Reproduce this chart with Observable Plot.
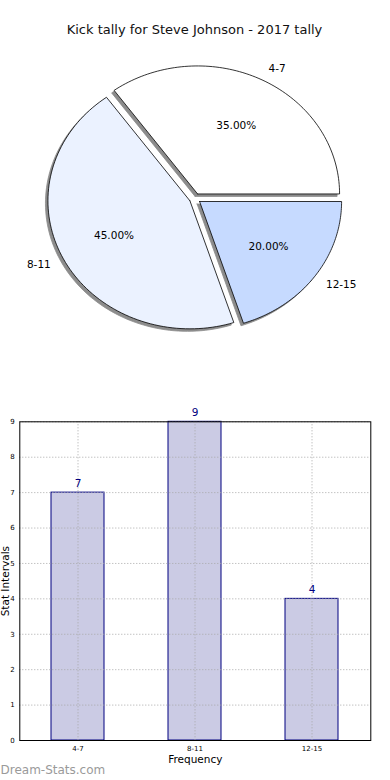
<!DOCTYPE html>
<html>
<head>
<meta charset="utf-8">
<script src="https://cdn.jsdelivr.net/npm/d3@7"></script>
<script src="https://cdn.jsdelivr.net/npm/@observablehq/plot@0.6"></script>
<style>
  html, body { margin: 0; padding: 0; background: #fff; }
  #wrap { position: relative; width: 390px; height: 780px; font-family: "DejaVu Sans", sans-serif; }
  #title { position: absolute; top: 21px; left: 0; width: 389px; text-align: center; font-size: 13px; color: #111; line-height: 18px; z-index: 2; }
  #pie { position: absolute; top: 0; left: 0; }
  #bar { position: absolute; top: 390px; left: 0; }
  svg { display: block; }
</style>
</head>
<body>
<div id="wrap">
  <div id="title">Kick tally for Steve Johnson - 2017 tally</div>
  <div id="pie"></div>
  <div id="bar"></div>
</div>
<script>
// ---- data ----
const categories = ["4-7", "8-11", "12-15"];
const counts = [7, 9, 4];
const pieColors = ["#ffffff", "#ebf2ff", "#c6daff"];
const yTicks = [0, 1, 2, 3, 4, 5, 6, 7, 8, 9];
const titleText = "Kick tally for Steve Johnson - 2017 tally";
const xLabel = "Frequency";
const yLabel = "Stat Intervals";
const watermark = "Dream-Stats.com";

const explode = 0.04;
const total = d3.sum(counts);

// angles (counter-clockwise from 3 o'clock) derived from the data
const arcs = d3.pie().sort(null)(counts);
const slices = arcs.map((a, i) => {
  const a0 = a.startAngle, a1 = a.endAngle, m = (a0 + a1) / 2;
  const ox = explode * Math.cos(m), oy = explode * Math.sin(m);
  return {cat: categories[i], value: counts[i], color: pieColors[i], a0, a1, m, ox, oy};
});
const polys = [];
for (const s of slices) {
  polys.push({cat: s.cat, color: s.color, x: s.ox, y: s.oy});
  const n = 90;
  for (let k = 0; k <= n; k++) {
    const t = s.a0 + (s.a1 - s.a0) * k / n;
    polys.push({cat: s.cat, color: s.color, x: s.ox + Math.cos(t), y: s.oy + Math.sin(t)});
  }
  polys.push({cat: s.cat, color: s.color, x: s.ox, y: s.oy});
}
const catLabels = slices.map(s => ({
  text: s.cat,
  x: s.ox + 1.1 * Math.cos(s.m),
  y: s.oy + 1.1 * Math.sin(s.m),
  anchor: Math.cos(s.m) >= 0 ? "start" : "end"
}));
const pctLabels = slices.map(s => ({
  text: (100 * s.value / total).toFixed(2) + "%",
  x: s.ox + 0.6 * Math.cos(s.m),
  y: s.oy + 0.6 * Math.sin(s.m)
}));

document.getElementById("title").textContent = titleText;

const pie = Plot.plot({
  width: 390, height: 390,
  marginTop: 0, marginBottom: 0, marginLeft: 0, marginRight: 0,
  style: {fontFamily: "DejaVu Sans, sans-serif", background: "transparent"},
  x: {domain: [-1, 1], range: [52.5, 336.5], axis: null},
  y: {domain: [-1, 1], range: [326, 70], axis: null},
  color: {type: "identity"},
  marks: [
    Plot.line(polys, {x: "x", y: "y", z: "cat", fill: "#8c8c8c", stroke: "#8c8c8c", strokeWidth: 0.8, dx: -2.5, dy: 2.5, curve: "linear"}),
    Plot.line(polys, {x: "x", y: "y", z: "cat", fill: "color", stroke: "#000", strokeWidth: 0.8, curve: "linear"}),
    Plot.text(catLabels.filter(d => d.anchor === "start"), {x: "x", y: "y", text: "text", textAnchor: "start", fontSize: 10.5, fill: "#000"}),
    Plot.text(catLabels.filter(d => d.anchor === "end"), {x: "x", y: "y", text: "text", textAnchor: "end", fontSize: 10.5, fill: "#000"}),
    Plot.text(pctLabels, {x: "x", y: "y", text: "text", fontSize: 10.5, fill: "#000"})
  ]
});
document.getElementById("pie").appendChild(pie);

// ---- bar chart ----
const barData = categories.map((c, i) => ({cat: c, value: counts[i]}));
const bar = Plot.plot({
  width: 390, height: 390,
  marginTop: 31.3, marginBottom: 40, marginLeft: 19.3, marginRight: 19.7,
  style: {fontFamily: "DejaVu Sans, sans-serif", background: "transparent", overflow: "visible"},
  x: {domain: categories, paddingInner: 0.55, paddingOuter: 0.275, align: 0.5, axis: null},
  y: {domain: [0, 9], axis: null},
  marks: [
    Plot.barY(barData, {x: "cat", y: "value", fill: "#cbcbe4", stroke: "#000080", strokeWidth: 1}),
    Plot.gridY(yTicks, {stroke: "#a8a8a8", strokeOpacity: 1, strokeDasharray: "1,2", strokeWidth: 1}),
    Plot.gridX(categories, {stroke: "#a8a8a8", strokeOpacity: 1, strokeDasharray: "1,2", strokeWidth: 1}),
    Plot.axisY(yTicks, {anchor: "left", tickSize: 0, tickPadding: 5, fontSize: 7, label: null, tickFormat: d => String(d)}),
    Plot.axisX(categories, {anchor: "bottom", tickSize: 0, tickPadding: 5.5, fontSize: 7, label: null}),
    Plot.frame({stroke: "#000", strokeWidth: 1}),
    Plot.text(barData, {x: "cat", y: "value", text: d => String(d.value), dy: -9, fontSize: 10.5, fill: "#000080"}),
    Plot.text([xLabel], {frameAnchor: "bottom", dy: 22.5, fontSize: 10.5, fill: "#000"}),
    Plot.text([yLabel], {frameAnchor: "left", dx: -14, rotate: -90, textAnchor: "middle", fontSize: 10.5, fill: "#000"}),
    Plot.text([watermark], {frameAnchor: "bottom-left", dx: -19.3, dy: 33, textAnchor: "start", fontSize: 12, fill: "#9a9a9a"})
  ]
});
document.getElementById("bar").appendChild(bar);
</script>
</body>
</html>
